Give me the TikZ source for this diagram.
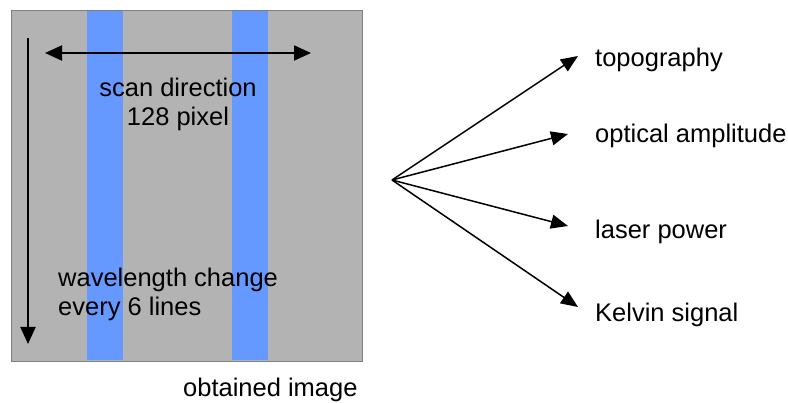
\documentclass[tikz,border=0pt]{standalone}
\usepackage{fontspec}
\setmainfont{Liberation Sans}
\usetikzlibrary{arrows.meta}
\definecolor{panelgray}{HTML}{B3B3B3}
\definecolor{paneledge}{HTML}{808080}
\definecolor{stripeblue}{HTML}{6699FF}
\tikzset{
  lbl/.style={inner sep=0pt, anchor=base west, font=\fontsize{25.5}{30}\selectfont},
  clbl/.style={inner sep=0pt, anchor=base, font=\fontsize{25.5}{30}\selectfont},
  bigarrow/.style={line width=2pt, -{Triangle[length=17pt,width=15pt]}},
  fanarrow/.style={line width=1.5pt, -{Triangle[length=17pt,width=14pt]}},
}
\begin{document}
\begin{tikzpicture}[x=1pt,y=-1pt]
\useasboundingbox (0,0) rectangle (788,403);

% image panel with the two wavelength stripes
\node[draw=paneledge, line width=1pt, fill=panelgray, minimum width=351pt, minimum height=351pt, inner sep=0pt, anchor=north west] (panel) at (10.5,10.5) {};
\fill[stripeblue] (87,11) rectangle (123,360.5);
\fill[stripeblue] (232,11) rectangle (268,360.5);

% scan axes
\coordinate (vtop) at (28,38);
\coordinate (vbot) at (28,344);
\coordinate (hl) at (45,53);
\coordinate (hr) at (311,53);
\draw[bigarrow] (vtop) -- (vbot);
\draw[bigarrow, {Triangle[length=17pt,width=15pt]}-{Triangle[length=17pt,width=15pt]}] (hl) -- (hr);

\node[clbl] (scanA) at (178,97) {scan direction};
\node[clbl] (scanB) at (178,125.5) {128 pixel};
\node[lbl] (waveA) at (58,287) {wavelength change};
\node[lbl] (waveB) at (58,316) {every 6 lines};
\node[lbl] (caption) at (183,397) {obtained image};

% output channels
\coordinate (src) at (392,180);
\coordinate (t1) at (578,56);
\coordinate (t2) at (568,134);
\coordinate (t3) at (568,226);
\coordinate (t4) at (578,307);
\draw[fanarrow] (src) -- (t1);
\draw[fanarrow] (src) -- (t2);
\draw[fanarrow] (src) -- (t3);
\draw[fanarrow] (src) -- (t4);

\node[lbl] (topo) at (595,67) {topography};
\node[lbl] (optamp) at (595,142.5) {optical amplitude};
\node[lbl] (laser) at (595,239) {laser power};
\node[lbl] (kelvin) at (595,322) {Kelvin signal};
\end{tikzpicture}
\end{document}
